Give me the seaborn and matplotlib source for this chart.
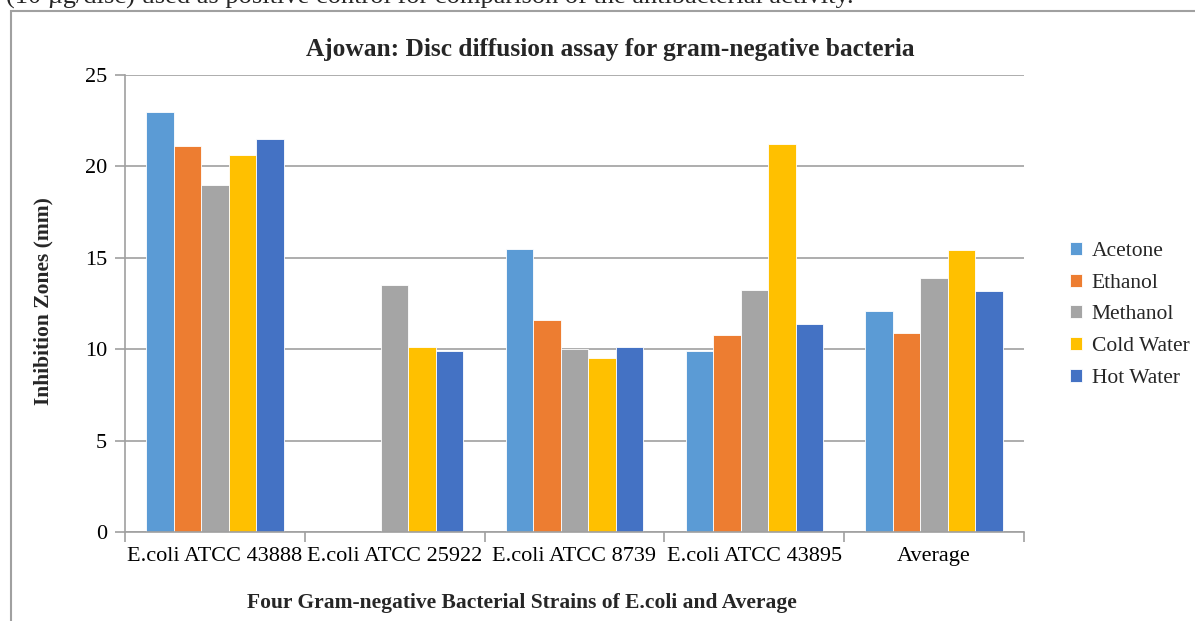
import matplotlib
matplotlib.use("Agg")
import matplotlib.pyplot as plt
import seaborn as sns
import pandas as pd
from matplotlib.patches import Rectangle

strains = ["E.coli ATCC 43888", "E.coli ATCC 25922", "E.coli ATCC 8739", "E.coli ATCC 43895", "Average"]
acetone = [23.0, 0.0, 15.5, 9.9, 12.1]
ethanol = [21.1, 0.0, 11.6, 10.75, 10.9]
methanol = [19.0, 13.5, 10.0, 13.25, 13.9]
cold_water = [20.6, 10.1, 9.5, 21.25, 15.4]
hot_water = [21.5, 9.9, 10.1, 11.4, 13.2]
solvents = ["Acetone", "Ethanol", "Methanol", "Cold Water", "Hot Water"]
colors = ["#5B9BD5", "#ED7D31", "#A5A5A5", "#FFC000", "#4472C4"]

rows = []
for s, vals in zip(solvents, [acetone, ethanol, methanol, cold_water, hot_water]):
    for strain, v in zip(strains, vals):
        rows.append({"Strain": strain, "Solvent": s, "Value": v})
df = pd.DataFrame(rows)

sns.set_theme(style="white")
plt.rcParams["font.family"] = ["Liberation Serif", "DejaVu Serif"]

fig = plt.figure(figsize=(11.95, 6.21), dpi=100)
ax = fig.add_axes([125/1195, 1-532/621, (1024-125)/1195, (532-75)/621])

sns.barplot(data=df, x="Strain", y="Value", hue="Solvent", order=strains,
            hue_order=solvents, palette=colors, width=0.765, ax=ax,
            edgecolor="white", linewidth=0.6, saturation=1, errorbar=None)

ax.set_ylim(0, 25)
ax.set_xlim(-0.5, 4.5)
ax.set_yticks([0, 5, 10, 15, 20, 25])
ax.yaxis.grid(True, color="#a0a0a0", linewidth=1.2)
ax.set_axisbelow(True)
for side in ["top", "right"]:
    ax.spines[side].set_visible(False)
for side in ["left", "bottom"]:
    ax.spines[side].set_color("#a0a0a0")
    ax.spines[side].set_linewidth(1.2)
ax.tick_params(axis="y", which="major", length=7, width=1.2, color="#a0a0a0",
               labelsize=16, pad=6, left=True, labelcolor="black")
ax.tick_params(axis="x", which="major", length=0, labelsize=16, pad=11, labelcolor="black")
ax.set_xticks([i - 0.5 for i in range(6)], minor=True)
ax.tick_params(axis="x", which="minor", length=7, width=1.2, color="#a0a0a0", bottom=True)

ax.set_xlabel("Four Gram-negative Bacterial Strains of E.coli and Average",
              fontsize=15.5, fontweight="bold")
ax.xaxis.set_label_coords((522 - 125) / 899, -(603 - 532) / 457)
ax.xaxis.label.set_va("center")
ax.set_ylabel("Inhibition Zones (mm)", fontsize=15.5, fontweight="bold")
ax.yaxis.set_label_coords((43 - 125) / 899, (532 - 301) / 457)
ax.yaxis.label.set_va("center")
ax.set_title("Ajowan: Disc diffusion assay for gram-negative bacteria",
             fontsize=18.3, fontweight="bold", x=(610 - 125) / 899, y=1.0, pad=14)

leg = ax.legend(loc="center left", bbox_to_anchor=(1.03, 0.475), frameon=False,
                fontsize=15.5, handlelength=0.55, handleheight=0.55, handletextpad=0.45,
                labelspacing=0.58)

fig.patches.append(Rectangle((11/1195, -0.1), 1.2, 1.1 - 11/621,
                             transform=fig.transFigure, fill=False,
                             edgecolor="#a0a0a0", linewidth=1.5))
fig.text(0.005, 1 + 14/621, "(10 µg/disc) used as positive control for comparison of the antibacterial activity.",
         fontsize=19, ha="left", va="top")

fig.savefig("out.png", dpi=100)
